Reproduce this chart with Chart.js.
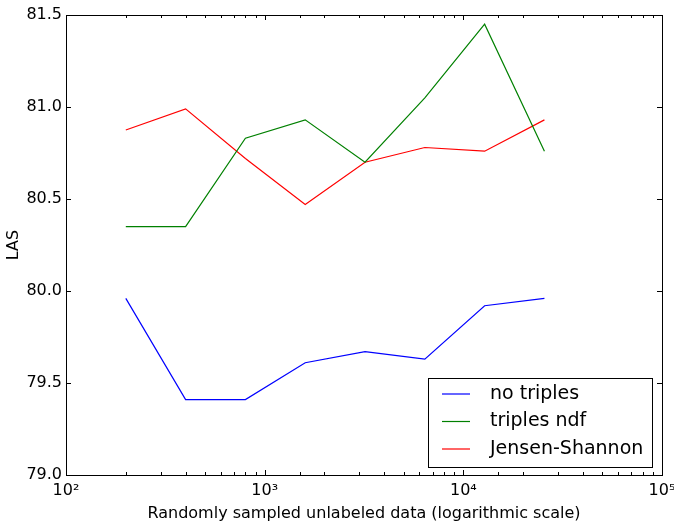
<!DOCTYPE html>
<html>
<head>
<meta charset="utf-8">
<script src="https://cdn.jsdelivr.net/npm/chart.js@4/dist/chart.umd.min.js"></script>
<style>
body { margin: 0; background: #fff; }
</style>
</head>
<body>
<canvas id="chartCanvas" width="674" height="523"></canvas>
<script>
// sample sizes (x) and LAS per method
const sampleSizes = [200, 400, 800, 1600, 3200, 6400, 12800, 25600];
const noTriples = [79.96, 79.41, 79.41, 79.61, 79.67, 79.63, 79.92, 79.96];
const triplesNdf = [80.35, 80.35, 80.83, 80.93, 80.70, 81.05, 81.45, 80.76];
const jensenShannon = [80.875, 80.99, 80.72, 80.47, 80.70, 80.78, 80.76, 80.93];

const seriesNames = ["no triples", "triples ndf", "Jensen-Shannon"];
const seriesColors = ["#0000ff", "#008000", "#ff0000"];
const xTickLabels = {100: "10²", 1000: "10³", 10000: "10⁴", 100000: "10⁵"};
const yTicks = [79.0, 79.5, 80.0, 80.5, 81.0, 81.5];

const font = "'DejaVu Sans', sans-serif";

function toPoints(values) {
    return values.map((v, i) => ({x: sampleSizes[i], y: v}));
}

// frame, inward tick marks and the boxed legend, matplotlib style
const framePlugin = {
    id: "frame",
    afterDraw(chart) {
        const ctx = chart.ctx;
        const a = chart.chartArea;
        const xs = chart.scales.x;
        const ys = chart.scales.y;
        ctx.save();
        ctx.strokeStyle = "#000";
        ctx.lineWidth = 1;
        ctx.strokeRect(Math.round(a.left) + 0.5, Math.round(a.top) + 0.5,
            Math.round(a.right - a.left), Math.round(a.bottom - a.top));

        ctx.beginPath();
        xs.ticks.forEach(t => {
            const p = Math.round(xs.getPixelForValue(t.value)) + 0.5;
            const lg = Math.log10(t.value);
            const len = Math.abs(lg - Math.round(lg)) < 1e-9 ? 5 : 3;
            ctx.moveTo(p, a.bottom); ctx.lineTo(p, a.bottom - len);
            ctx.moveTo(p, a.top); ctx.lineTo(p, a.top + len);
        });
        yTicks.forEach(v => {
            const p = Math.round(ys.getPixelForValue(v)) + 0.5;
            ctx.moveTo(a.left, p); ctx.lineTo(a.left + 5, p);
            ctx.moveTo(a.right, p); ctx.lineTo(a.right - 5, p);
        });
        ctx.stroke();

        // legend
        const bx = 428.5, by = 378.5, bw = 224, bh = 89;
        ctx.fillStyle = "#fff";
        ctx.fillRect(bx, by, bw, bh);
        ctx.strokeRect(bx, by, bw, bh);
        ctx.font = "19px " + font;
        ctx.textBaseline = "middle";
        chart.data.datasets.forEach((ds, i) => {
            const y = 394 + i * 27.5;
            ctx.strokeStyle = ds.borderColor;
            ctx.lineWidth = 1.2;
            ctx.beginPath();
            ctx.moveTo(442, y); ctx.lineTo(470, y);
            ctx.stroke();
            ctx.fillStyle = "#000";
            ctx.fillText(ds.label, 490, y);
        });
        ctx.restore();
    }
};

const allSeries = [noTriples, triplesNdf, jensenShannon];

new Chart(document.getElementById("chartCanvas"), {
    type: "line",
    data: {
        datasets: allSeries.map((vals, i) => ({
            label: seriesNames[i],
            data: toPoints(vals),
            borderColor: seriesColors[i],
            backgroundColor: seriesColors[i],
            borderWidth: 1.2,
            pointRadius: 0,
            tension: 0,
            fill: false
        }))
    },
    options: {
        responsive: false,
        animation: false,
        layout: { padding: { top: 15, right: 12, left: 0, bottom: 0 } },
        plugins: { legend: { display: false }, tooltip: { enabled: false } },
        scales: {
            x: {
                type: "logarithmic",
                min: 100,
                max: 100000,
                grid: { display: false, drawTicks: false },
                border: { display: false },
                ticks: {
                    autoSkip: false,
                    maxRotation: 0,
                    padding: 6,
                    color: "#000",
                    font: { family: font, size: 16 },
                    callback: v => xTickLabels[v] || ""
                },
                title: {
                    display: true,
                    text: "Randomly sampled unlabeled data (logarithmic scale)",
                    color: "#000",
                    font: { family: font, size: 16 },
                    padding: { top: 2, bottom: 0 }
                },
                afterFit: s => { s.height = 48; s.paddingLeft = 0; s.paddingRight = 0; }
            },
            y: {
                min: 79.0,
                max: 81.5,
                grid: { display: false, drawTicks: false },
                border: { display: false },
                afterBuildTicks: s => { s.ticks = yTicks.map(v => ({value: v})); },
                ticks: {
                    padding: 4,
                    color: "#000",
                    font: { family: font, size: 16 },
                    callback: v => v.toFixed(1)
                },
                title: {
                    display: true,
                    text: "LAS",
                    color: "#000",
                    font: { family: font, size: 16 },
                    padding: { top: 4, bottom: 2 }
                },
                afterFit: s => { s.width = 66; s.paddingTop = 0; s.paddingBottom = 0; }
            }
        }
    },
    plugins: [framePlugin]
});
</script>
</body>
</html>
